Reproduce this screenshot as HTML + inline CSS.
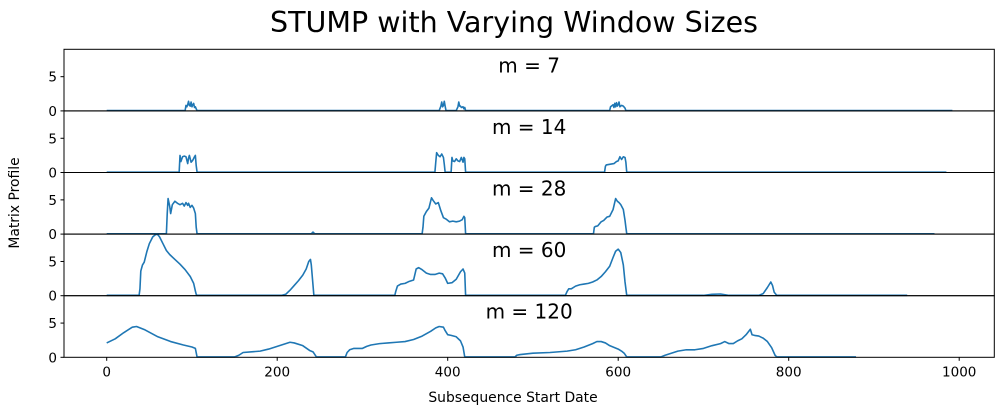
<!DOCTYPE html>
<html><head><meta charset="utf-8"><style>
html,body{margin:0;padding:0;background:#fff;}
svg{display:block;font-family:"DejaVu Sans","Liberation Sans",sans-serif;}
</style></head><body>
<svg id="chart" width="1004" height="414" viewBox="0 0 1004 414">
<text x="514" y="32" font-size="28.5" text-anchor="middle" fill="#000">STUMP with Varying Window Sizes</text>
<text x="0" y="0" font-size="13.9" text-anchor="middle" transform="translate(19,203) rotate(-90)">Matrix Profile</text>
<text x="513" y="402" font-size="13.9" text-anchor="middle">Subsequence Start Date</text>
<g id="panels"></g>
</svg>
<script>
const windowSizes = [7, 14, 28, 60, 120];
const xTicks = [0, 200, 400, 600, 800, 1000];
const yTicks = [0, 5];
const x7 = [0,92,93,94,95,96,97,98,99,100,101,102,103,104,105,106,390,392,393,394,395,396,397,398,410,412,413,414,415,416,418,419,420,421,590,591,592,594,595,596,597,598,599,600,601,602,604,606,608,609,992];
const y7 = [0.05,0.05,0.8,0.6,0.9,1.4,0.8,0.7,1.3,0.6,0.9,1.1,0.5,0.6,0.3,0.05,0.05,0.7,1.3,0.6,0.8,1.4,0.7,0.05,0.05,0.6,1.3,0.7,0.7,0.5,0.6,0.3,0.5,0.05,0.05,0.6,0.7,0.9,0.5,1.1,0.6,1.2,0.7,0.9,1.3,0.6,0.8,0.7,0.4,0.05,0.05];
const x14 = [0,85,86,87,89,91,93,95,96,97,99,101,103,104,105,106,385,386,387,389,391,393,395,396,397,399,400,404,405,406,408,410,412,414,416,418,419,420,421,584,585,586,590,595,598,600,602,604,606,608,609,610,985];
const y14 = [0.05,0.05,2.5,1.6,2.3,2.4,2.3,1.3,2.1,2.5,1.5,1.8,2.3,2.5,1.0,0.05,0.05,1.5,2.9,2.5,2.3,2.7,2.2,1.2,0.05,0.05,0.05,0.05,2.2,1.7,1.6,2.0,1.7,1.6,2.2,1.5,2.2,2.0,0.05,0.05,0.9,1.1,1.2,1.3,1.6,1.7,2.3,1.9,2.3,2.2,1.5,0.05,0.05];
const x28 = [0,70,71,72,74,75,77,80,83,86,89,91,93,95,96,98,100,102,104,105,106,240,242,244,246,370,371,372,375,378,381,383,386,389,392,395,398,402,406,410,414,417,419,420,421,571,572,573,576,580,583,587,590,594,597,599,601,603,606,608,609,610,971];
const y28 = [0.05,0.05,3.0,5.2,4.0,3.0,4.3,4.8,4.5,4.3,4.5,4.1,4.6,4.2,4.5,3.9,4.2,3.8,3.0,1.0,0.05,0.05,0.3,0.05,0.05,0.05,1.0,2.6,3.3,3.8,5.3,4.9,4.4,4.6,3.4,2.4,2.2,1.8,1.9,1.8,1.9,2.1,2.6,2.4,0.05,0.05,1.0,1.1,1.2,1.8,2.0,2.5,2.6,3.6,5.2,4.8,4.6,4.3,3.6,2.0,1.0,0.05,0.05];
const x60 = [0,38,39,40,42,44,47,50,54,58,60,62,66,70,74,80,86,92,98,102,104,105,106,205,210,215,220,225,230,234,237,239,240,243,338,339,341,345,350,355,360,363,366,370,375,380,385,390,394,397,400,405,410,415,418,420,421,538,540,542,545,550,555,560,565,570,575,580,585,590,594,597,600,603,606,608,610,700,710,720,730,765,770,775,779,781,783,786,788,939];
const y60 = [0.05,0.05,1.0,3.6,4.5,4.9,6.4,7.6,8.6,9.0,8.9,8.6,7.6,6.6,6.0,5.3,4.6,3.8,2.8,1.8,0.7,0.2,0.05,0.05,0.2,0.8,1.5,2.2,3.0,3.9,5.0,5.3,4.5,0.05,0.05,0.6,1.4,1.7,1.8,2.1,2.3,3.9,4.1,3.8,3.3,3.1,3.1,3.3,3.2,2.6,1.8,1.9,2.4,3.5,3.9,3.3,0.05,0.05,0.6,1.0,1.0,1.4,1.6,1.7,1.8,2.0,2.3,2.8,3.5,4.3,5.6,6.5,6.8,6.3,4.5,2.0,0.05,0.05,0.2,0.25,0.05,0.05,0.3,1.2,2.0,1.5,0.5,0.05,0.05,0.05];
const x120 = [0,10,20,30,35,45,60,75,90,100,104,106,150,155,160,170,180,190,200,210,215,220,230,238,242,246,280,282,285,290,300,305,310,320,330,340,350,360,370,380,386,390,395,397,400,404,410,415,418,420,479,481,485,500,520,540,550,560,570,575,580,585,590,600,604,607,610,650,655,660,670,680,690,700,710,720,725,730,735,740,745,750,755,757,760,765,770,775,780,784,786,879];
const y120 = [2.1,2.7,3.6,4.4,4.5,4.0,3.0,2.3,1.8,1.5,1.3,0.05,0.05,0.3,0.7,0.8,0.9,1.2,1.6,2.0,2.2,2.1,1.7,1.0,0.8,0.05,0.05,0.7,1.1,1.3,1.3,1.6,1.8,2.0,2.1,2.2,2.3,2.6,3.1,3.8,4.3,4.5,4.4,3.9,3.3,3.2,3.0,2.4,1.5,0.05,0.05,0.3,0.4,0.6,0.7,0.9,1.1,1.5,2.0,2.3,2.3,2.1,1.7,1.2,0.9,0.6,0.05,0.05,0.3,0.5,0.9,1.1,1.1,1.3,1.7,2.0,2.3,2.0,2.0,2.4,2.7,3.3,4.1,3.3,3.2,3.1,2.8,2.3,1.4,0.3,0.05,0.05];
const seriesX = [x7, x14, x28, x60, x120];
const seriesY = [y7, y14, y28, y60, y120];

const NS = "http://www.w3.org/2000/svg";
const g = document.getElementById('panels');
const L = 64, R = 994.3, TOP = 49.3, H = 61.6;
const X0 = 106.7, XS = 0.8525, YMAX = 9.0;
function xPx(v){ return X0 + v * XS; }
function mk(tag, attrs){ const e = document.createElementNS(NS, tag); for (const k in attrs) e.setAttribute(k, attrs[k]); return e; }

windowSizes.forEach((m, i) => {
  const top = TOP + i * H, bot = top + H;
  const yPx = v => bot - v / YMAX * H;
  const pg = mk('g', {});
  
  
  g.appendChild(pg);
  let d = '';
  seriesX[i].forEach((xv, j) => { d += (j ? 'L' : 'M') + xPx(xv).toFixed(2) + ',' + yPx(seriesY[i][j]).toFixed(2); });
  const line = mk('path', {d: d, fill: 'none', stroke: '#1f77b4', 'stroke-width': 1.6, 'stroke-linejoin': 'round'});
  
  
  pg.appendChild(line);
  const frame = mk('rect', {x: L, y: top, width: R - L, height: H, fill: 'none', stroke: '#000', 'stroke-width': 1});
  
  
  pg.appendChild(frame);
  yTicks.forEach(t => {
    const yy = yPx(t);
    const tk = mk('line', {x1: L - 3.5, x2: L, y1: yy, y2: yy, stroke: '#000', 'stroke-width': 1});
    
    
    pg.appendChild(tk);
    const tl = mk('text', {x: L - 7, y: yy + 5, 'font-size': 13.5, 'text-anchor': 'end'});
    tl.textContent = t;
    
    
    pg.appendChild(tl);
  });
  const st = mk('text', {x: (L + R) / 2, y: top + 23, 'font-size': 20, 'text-anchor': 'middle'});
  st.textContent = 'm = ' + m;
  
  
  pg.appendChild(st);
});
const bottom = TOP + windowSizes.length * H;
xTicks.forEach(t => {
  const xx = xPx(t);
  const tk = mk('line', {x1: xx, x2: xx, y1: bottom, y2: bottom + 3.5, stroke: '#000', 'stroke-width': 1});
  
  
  g.appendChild(tk);
  const tl = mk('text', {x: xx, y: bottom + 19, 'font-size': 13.5, 'text-anchor': 'middle'});
  tl.textContent = t;
  
  
  g.appendChild(tl);
});
</script>
</body></html>
